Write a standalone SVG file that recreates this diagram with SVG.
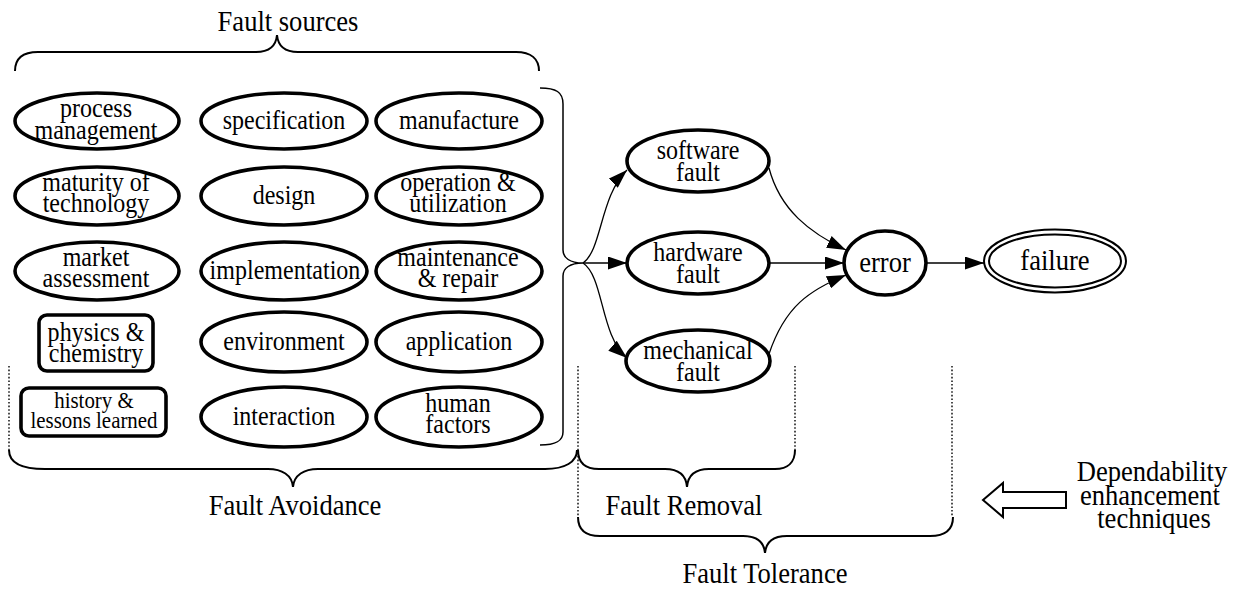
<svg xmlns="http://www.w3.org/2000/svg" width="1238" height="590" viewBox="0 0 1238 590">
  <style>
    text { font-family: "Liberation Serif", "Times New Roman", serif; fill: #000; text-anchor: middle;
           transform-box: fill-box; transform-origin: center; }
    .nt { font-size: 27px; transform: scaleX(0.89); }
    .nts { font-size: 23.5px; transform: scaleX(0.89); }
    .big { font-size: 29.5px; transform: scaleX(0.9); }
    .node { fill: #fff; stroke: #000; stroke-width: 3.6; }
    .box { fill: #fff; stroke: #000; stroke-width: 3.6; }
    .dbl { fill: none; stroke: #000; stroke-width: 2; }
    .edge { fill: none; stroke: #000; stroke-width: 1.3; marker-end: url(#ah); }
    .brace { fill: none; stroke: #000; stroke-width: 2; }
    .brace-thin { fill: none; stroke: #000; stroke-width: 1.5; }
    .dot { fill: none; stroke: #000; stroke-width: 1.4; stroke-dasharray: 1.6 2; }
  </style>
  <defs>
    <marker id="ah" markerWidth="19" markerHeight="13" refX="19" refY="6.5" orient="auto" markerUnits="userSpaceOnUse">
      <path d="M0,0 L19,6.5 L0,13 z" fill="#000"/>
    </marker>
  </defs>

  <rect width="1238" height="590" fill="#fff"/>

  <!-- group titles -->
  <g id="labels">
    <text class="big" x="288" y="31">Fault sources</text>
    <text class="big" x="295" y="515">Fault Avoidance</text>
    <text class="big" x="684" y="515">Fault Removal</text>
    <text class="big" x="765" y="583">Fault Tolerance</text>
    <text class="big" x="1152" y="481">Dependability</text>
    <text class="big" x="1150" y="505">enhancement</text>
    <text class="big" x="1154" y="528">techniques</text>
  </g>

  <g id="braces">
    <!-- over the fault sources -->
    <path class="brace" d="M15,71 C15,59 22,52 38,52 L256,52 C269,52 276,46 277,35 C278,46 285,52 298,52 L516,52 C531,52 539,59 539,71"/>
    <!-- right of the fault sources, pointing to the faults -->
    <path class="brace-thin" d="M540,88 C556,88 563,92 563,104 L563,250 C563,258 570,263 583,263 C570,263 563,268 563,276 L563,432 C563,441 556,445 540,445"/>
    <!-- fault avoidance -->
    <path class="brace" d="M9,450 C9,463 22,469 45,469 L268,469 C282,469 292,475 293,487 C294,475 304,469 318,469 L545,469 C565,469 577,462 577,450"/>
    <!-- fault removal -->
    <path class="brace" d="M578,450 C578,462 585,469 599,469 L665,469 C678,469 686,475 687,487 C688,475 696,469 709,469 L775,469 C788,469 795,462 795,450"/>
    <!-- fault tolerance -->
    <path class="brace" d="M578,517 C578,530 585,536 600,536 L743,536 C757,536 764,542 765,553 C766,542 773,536 787,536 L930,536 C945,536 953,530 953,517"/>
    <!-- dotted range markers -->
    <line class="dot" x1="9" y1="366" x2="9" y2="450"/>
    <line class="dot" x1="578" y1="366" x2="578" y2="517"/>
    <line class="dot" x1="795" y1="366" x2="795" y2="450"/>
    <line class="dot" x1="952" y1="366" x2="952" y2="517"/>
    <!-- hollow arrow -->
    <polygon points="983,500 1003,483 1003,492 1066,492 1066,508 1003,508 1003,517" fill="#fff" stroke="#000" stroke-width="2" stroke-linejoin="miter"/>
  </g>

  <!-- fault sources, column 1 -->
  <g id="process-management">
    <ellipse class="node" cx="97" cy="121" rx="82" ry="28"/>
    <text class="nt" x="96" y="117">process</text>
    <text class="nt" x="96" y="139">management</text>
  </g>
  <g id="maturity-of-technology">
    <ellipse class="node" cx="97" cy="196" rx="82" ry="29"/>
    <text class="nt" x="96" y="191">maturity of</text>
    <text class="nt" x="96" y="212">technology</text>
  </g>
  <g id="market-assessment">
    <ellipse class="node" cx="97" cy="271" rx="82" ry="29"/>
    <text class="nt" x="96" y="266">market</text>
    <text class="nt" x="96" y="287">assessment</text>
  </g>
  <g id="physics-chemistry">
    <rect class="box" x="39" y="315" width="114" height="56" rx="8"/>
    <text class="nt" x="96" y="341">physics &amp;</text>
    <text class="nt" x="96" y="362">chemistry</text>
  </g>
  <g id="history-lessons-learned">
    <rect class="box" x="21" y="388" width="145" height="48" rx="8"/>
    <text class="nts" x="94" y="408">history &amp;</text>
    <text class="nts" x="94" y="428">lessons learned</text>
  </g>

  <!-- fault sources, column 2 -->
  <g id="specification">
    <ellipse class="node" cx="284" cy="121" rx="83" ry="28"/>
    <text class="nt" x="284" y="129">specification</text>
  </g>
  <g id="design">
    <ellipse class="node" cx="284" cy="196" rx="83" ry="29"/>
    <text class="nt" x="284" y="204">design</text>
  </g>
  <g id="implementation">
    <ellipse class="node" cx="284" cy="271" rx="83" ry="29"/>
    <text class="nt" x="285" y="279">implementation</text>
  </g>
  <g id="environment">
    <ellipse class="node" cx="284" cy="342" rx="83" ry="30"/>
    <text class="nt" x="284" y="350">environment</text>
  </g>
  <g id="interaction">
    <ellipse class="node" cx="284" cy="417" rx="83" ry="30"/>
    <text class="nt" x="284" y="425">interaction</text>
  </g>

  <!-- fault sources, column 3 -->
  <g id="manufacture">
    <ellipse class="node" cx="459" cy="121" rx="83" ry="28"/>
    <text class="nt" x="459" y="129">manufacture</text>
  </g>
  <g id="operation-utilization">
    <ellipse class="node" cx="459" cy="196" rx="83" ry="29"/>
    <text class="nt" x="458" y="191">operation &amp;</text>
    <text class="nt" x="458" y="212">utilization</text>
  </g>
  <g id="maintenance-repair">
    <ellipse class="node" cx="459" cy="271" rx="83" ry="29"/>
    <text class="nt" x="458" y="266">maintenance</text>
    <text class="nt" x="458" y="287">&amp; repair</text>
  </g>
  <g id="application">
    <ellipse class="node" cx="459" cy="342" rx="83" ry="30"/>
    <text class="nt" x="459" y="350">application</text>
  </g>
  <g id="human-factors">
    <ellipse class="node" cx="459" cy="417" rx="83" ry="30"/>
    <text class="nt" x="458" y="412">human</text>
    <text class="nt" x="458" y="433">factors</text>
  </g>

  <!-- fault classes, error and failure -->
  <g id="software-fault">
    <ellipse class="node" cx="698" cy="161" rx="71" ry="31"/>
    <text class="nt" x="698" y="159">software</text>
    <text class="nt" x="698" y="181">fault</text>
  </g>
  <g id="hardware-fault">
    <ellipse class="node" cx="698" cy="263" rx="71" ry="31"/>
    <text class="nt" x="698" y="261">hardware</text>
    <text class="nt" x="698" y="283">fault</text>
  </g>
  <g id="mechanical-fault">
    <ellipse class="node" cx="698" cy="361" rx="72" ry="31"/>
    <text class="nt" x="698" y="359">mechanical</text>
    <text class="nt" x="698" y="381">fault</text>
  </g>
  <g id="error">
    <ellipse class="node" cx="885" cy="263" rx="41" ry="32"/>
    <text class="big" x="885" y="272">error</text>
  </g>
  <g id="failure">
    <ellipse class="dbl" cx="1055" cy="261" rx="71" ry="31.5"/>
    <ellipse class="dbl" cx="1055" cy="261" rx="66" ry="26.5"/>
    <text class="big" x="1055" y="270">failure</text>
  </g>

  <!-- connectors -->
  <g id="connectors">
    <path class="edge" d="M583,263 C602,250 600,196 627,170"/>
    <path class="edge" d="M583,263 L627,263"/>
    <path class="edge" d="M583,263 C604,277 600,335 627,358"/>
    <path class="edge" d="M769,168 C780,210 810,233 846,250"/>
    <path class="edge" d="M769,263 L844,263"/>
    <path class="edge" d="M769,354 C785,306 810,290 846,275"/>
    <path class="edge" d="M926,263 L984,263"/>
  </g>
</svg>
